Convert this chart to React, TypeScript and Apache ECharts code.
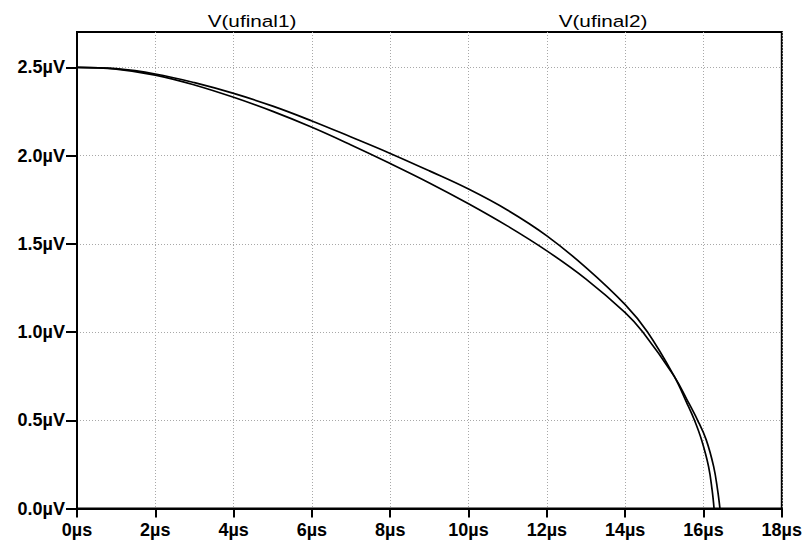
import React, { useEffect, useRef } from "react";
import * as echarts from "echarts";

// time in µs, voltage in µV
const timesUfinal1 = [0, 1, 2, 3, 4, 5, 6, 7, 8, 9, 10, 11, 12, 13, 14, 14.57, 15.25, 15.57, 15.77, 15.95, 16.13, 16.22, 16.27];
const valuesUfinal1 = [2.5, 2.492, 2.462, 2.413, 2.352, 2.28, 2.196, 2.105, 2.012, 1.913, 1.81, 1.69, 1.545, 1.365, 1.155, 1.0, 0.75, 0.6, 0.5, 0.389, 0.237, 0.105, 0];

const timesUfinal2 = [0, 1, 2, 3, 4, 5, 6, 7, 8, 9, 10, 11, 12, 13, 14, 14.45, 15.25, 15.57, 15.85, 16.07, 16.26, 16.36, 16.42];
const valuesUfinal2 = [2.5, 2.49, 2.456, 2.4, 2.33, 2.25, 2.16, 2.06, 1.955, 1.845, 1.727, 1.6, 1.46, 1.3, 1.11, 1.0, 0.75, 0.62, 0.5, 0.389, 0.237, 0.105, 0];

const xTicks = [0, 2, 4, 6, 8, 10, 12, 14, 16, 18];
const yTicks = [0, 0.5, 1.0, 1.5, 2.0, 2.5];
const seriesNames = ["V(ufinal1)", "V(ufinal2)"];

const FONT = "'Liberation Sans', Arial, sans-serif";

export default function App() {
  const ref = useRef<HTMLDivElement>(null);
  useEffect(() => {
    if (!ref.current) return;
    const chart = echarts.init(ref.current, null, { renderer: "svg" });
    const d1 = timesUfinal1.map((t, i) => [t, valuesUfinal1[i]]);
    const d2 = timesUfinal2.map((t, i) => [t, valuesUfinal2[i]]);
    chart.setOption({
      animation: false,
      backgroundColor: "#fff",
      grid: {
        left: 77,
        top: 32,
        width: 706,
        height: 476.5,
        show: true,
        borderColor: "#000",
        borderWidth: 2,
        backgroundColor: "transparent",
      },
      graphic: [
        {
          type: "text",
          x: 252,
          y: 21,
          scaleX: 1.22,
          style: {
            text: seriesNames[0],
            font: `17px ${FONT}`,
            fill: "#000",
            align: "center",
            verticalAlign: "middle",
          },
        },
        {
          type: "text",
          x: 603,
          y: 21,
          scaleX: 1.22,
          style: {
            text: seriesNames[1],
            font: `17px ${FONT}`,
            fill: "#000",
            align: "center",
            verticalAlign: "middle",
          },
        },
      ],
      xAxis: {
        type: "value",
        min: 0,
        max: 18,
        interval: 2,
        axisLine: { show: true, onZero: false, lineStyle: { color: "#000", width: 2 } },
        axisTick: { show: true, length: 9, lineStyle: { color: "#000", width: 2 } },
        axisLabel: {
          color: "#000",
          fontFamily: FONT,
          fontWeight: "bold",
          fontSize: 18,
          margin: 12,
          formatter: (v: number) => (xTicks.includes(v) ? `${v}µs` : ""),
        },
        splitLine: { show: true, lineStyle: { color: "#a8a8a8", width: 1, type: [1, 2] } },
      },
      yAxis: {
        type: "value",
        min: 0,
        max: 2.7,
        interval: 0.5,
        axisLine: { show: true, onZero: false, lineStyle: { color: "#000", width: 2 } },
        axisTick: { show: true, length: 11, customValues: yTicks, lineStyle: { color: "#000", width: 2 } },
        axisLabel: {
          color: "#000",
          fontFamily: FONT,
          fontWeight: "bold",
          fontSize: 18,
          margin: 12,
          customValues: yTicks,
          formatter: (v: number) => `${v.toFixed(1)}µV`,
        },
        splitLine: { show: true, lineStyle: { color: "#a8a8a8", width: 1, type: [1, 2] } },
      },
      series: [
        {
          name: seriesNames[0],
          type: "line",
          data: d1,
          showSymbol: false,
          smooth: 0.4,
          lineStyle: { color: "#000", width: 1.7 },
          z: 3,
        },
        {
          name: seriesNames[1],
          type: "line",
          data: d2,
          showSymbol: false,
          smooth: 0.4,
          lineStyle: { color: "#000", width: 1.7 },
          z: 3,
        },
      ],
    });
    return () => chart.dispose();
  }, []);
  return <div ref={ref} style={{ width: 805, height: 542, position: "absolute", left: 0, top: 0 }} />;
}
